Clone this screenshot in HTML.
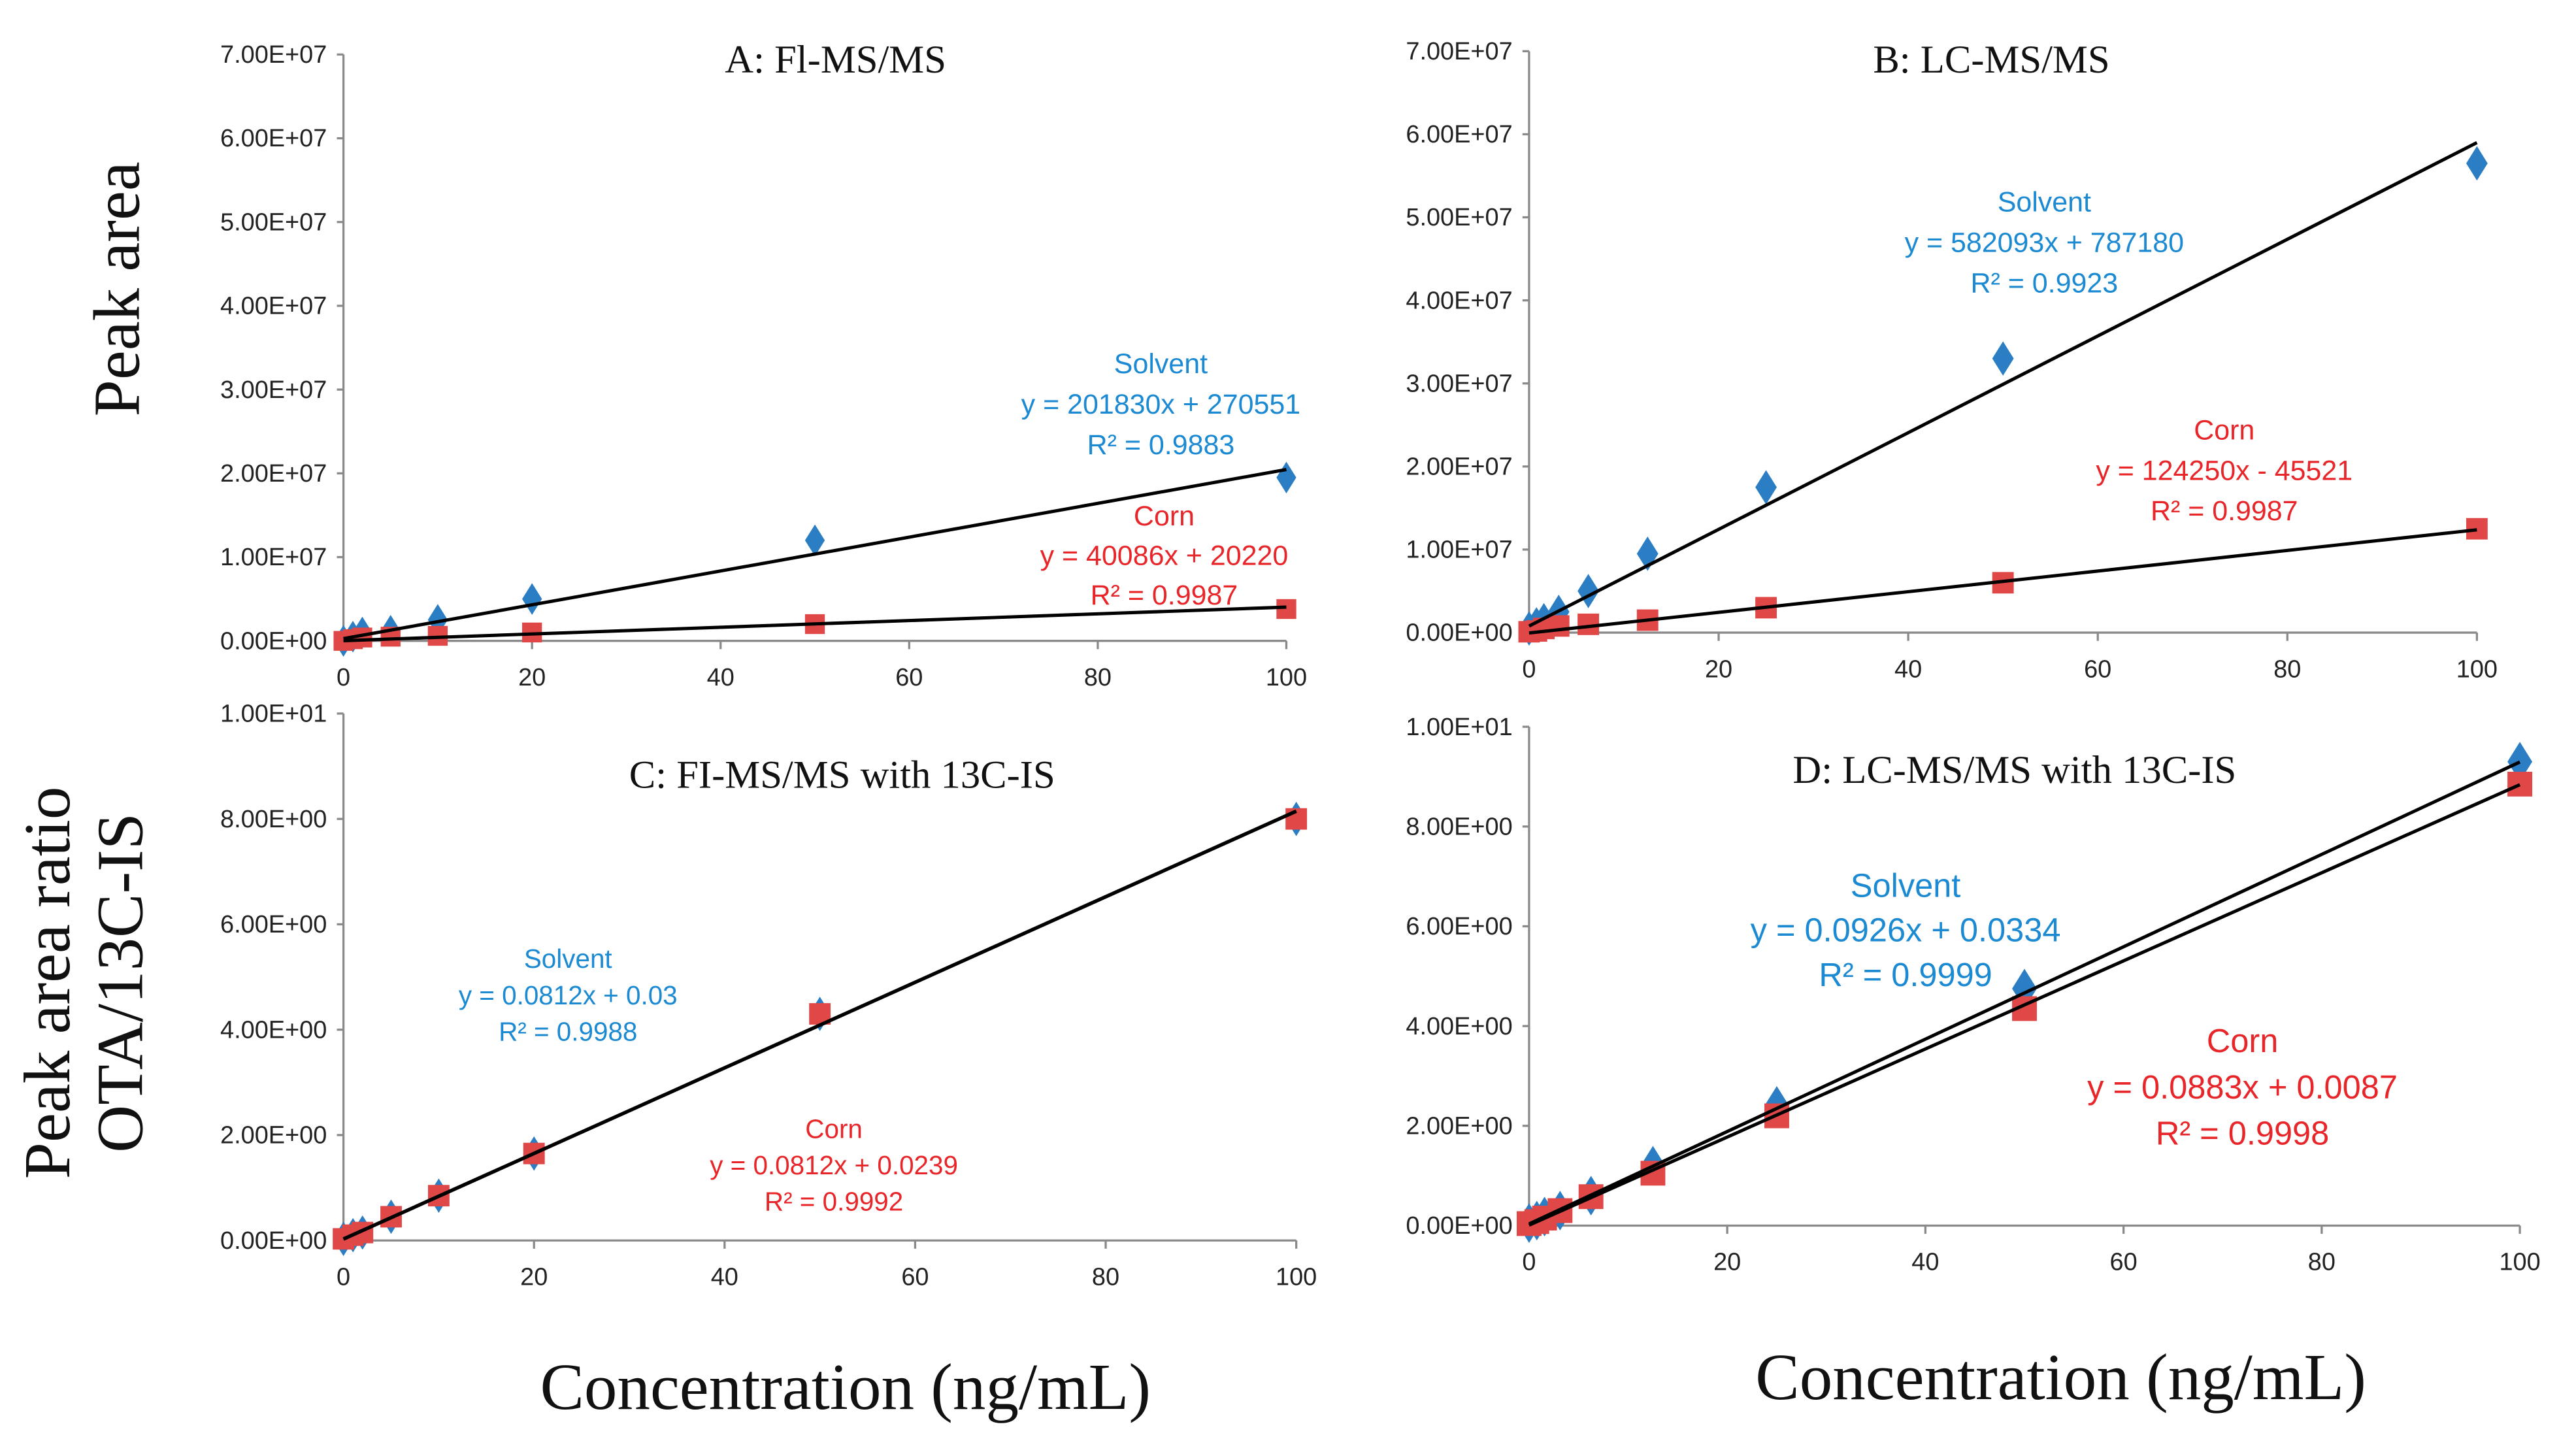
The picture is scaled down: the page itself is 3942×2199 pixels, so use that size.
<!DOCTYPE html>
<html><head><meta charset="utf-8"><style>
html,body{margin:0;padding:0;background:#fff;}
svg{display:block;}
.tk{font-family:"Liberation Sans Narrow","Liberation Sans",sans-serif;font-size:15px;fill:#222;}
.ttl{font-family:"Liberation Serif",serif;font-size:24px;fill:#111;}
.big{font-family:"Liberation Serif",serif;font-size:40px;fill:#111;}
.ann{font-family:"Liberation Sans Narrow","Liberation Sans",sans-serif;text-anchor:middle;}
</style></head><body>
<svg id="fig" width="3942" height="2199" viewBox="0 0 1560 870" preserveAspectRatio="none" xmlns="http://www.w3.org/2000/svg">
<text class="big" transform="translate(84,175) rotate(-90)" text-anchor="middle">Peak area</text>
<text class="big" transform="translate(42,595) rotate(-90)" text-anchor="middle">Peak area ratio</text>
<text class="big" transform="translate(86,595) rotate(-90)" text-anchor="middle">OTA/13C-IS</text>
<text class="big" x="512" y="853" text-anchor="middle">Concentration (ng/mL)</text>
<text class="big" x="1248" y="847" text-anchor="middle">Concentration (ng/mL)</text>
</svg>
<script>
// Panel A data
const xA = [0, 1, 2, 5, 10, 20, 50, 100];
const solventA = [0.0e7, 0.05e7, 0.1e7, 0.12e7, 0.25e7, 0.5e7, 1.2e7, 1.95e7];
const cornA = [0.0, 0.02e7, 0.04e7, 0.05e7, 0.06e7, 0.1e7, 0.2e7, 0.38e7];
const fitA = [[201830, 270551], [40086, 20220]];
const yTicksE7 = ["0.00E+00","1.00E+07","2.00E+07","3.00E+07","4.00E+07","5.00E+07","6.00E+07","7.00E+07"];
// Panel B data
const xB = [0, 0.78, 1.56, 3.125, 6.25, 12.5, 25, 50, 100];
const solventB = [0.05e7, 0.1e7, 0.15e7, 0.25e7, 0.5e7, 0.95e7, 1.75e7, 3.3e7, 5.65e7];
const cornB = [0.01e7, 0.02e7, 0.05e7, 0.08e7, 0.1e7, 0.15e7, 0.3e7, 0.6e7, 1.25e7];
const fitB = [[582093, 787180], [124250, -45521]];
// Panel C data
const xC = [0, 1, 2, 5, 10, 20, 50, 100];
const solventC = [0.03, 0.1, 0.15, 0.45, 0.85, 1.65, 4.3, 8.0];
const cornC = [0.03, 0.1, 0.15, 0.45, 0.85, 1.65, 4.3, 8.0];
const fitC = [[0.0812, 0.03], [0.0812, 0.0239]];
const yTicksC = ["0.00E+00","2.00E+00","4.00E+00","6.00E+00","8.00E+00","1.00E+01"];
// Panel D data
const xD = [0, 0.78, 1.56, 3.125, 6.25, 12.5, 25, 50, 100];
const solventD = [0.05, 0.1, 0.18, 0.3, 0.6, 1.2, 2.4, 4.75, 9.3];
const cornD = [0.04, 0.08, 0.15, 0.3, 0.58, 1.05, 2.2, 4.35, 8.85];
const fitD = [[0.0926, 0.0334], [0.0883, 0.0087]];
const xTicks = ["0","20","40","60","80","100"];

const NS = "http://www.w3.org/2000/svg";
const svg = document.getElementById("fig");
function mk(tag, attrs, parent) {
  const e = document.createElementNS(NS, tag);
  for (const k in attrs) e.setAttribute(k, attrs[k]);
  (parent || svg).appendChild(e);
  return e;
}

function panel(o) {
  const g = mk("g", {});
  
  
  const sx = v => o.x0 + (v / 100) * (o.x1 - o.x0);
  const sy = v => o.y0 - (v / o.ymax) * (o.y0 - o.y1);
  const ya = mk("line", {x1:o.x0, y1:o.y1, x2:o.x0, y2:o.y0, stroke:"#8a8a8a", "stroke-width":1.3}, g);
  
  
  const xa = mk("line", {x1:o.x0, y1:o.y0, x2:o.x1, y2:o.y0, stroke:"#8a8a8a", "stroke-width":1.3}, g);
  
  
  o.yt.forEach((lab, i) => {
    const v = i * o.ymax / (o.yt.length - 1);
    const y = sy(v);
    mk("line", {x1:o.x0-4, y1:y, x2:o.x0, y2:y, stroke:"#8a8a8a", "stroke-width":1.3}, g);
    const t = mk("text", {x:o.x0-10, y:y+5, "text-anchor":"end", class:"tk"}, g);
    t.textContent = lab;
    
    
  });
  xTicks.forEach(lab => {
    const x = sx(+lab);
    mk("line", {x1:x, y1:o.y0, x2:x, y2:o.y0+5, stroke:"#8a8a8a", "stroke-width":1.3}, g);
    const t = mk("text", {x:x, y:o.y0+27, "text-anchor":"middle", class:"tk"}, g);
    t.textContent = lab;
    
    
  });
  const ms = o.ms;
  o.sol.forEach((v, i) => {
    const x = sx(o.xs[i]), y = sy(v);
    const d = mk("polygon", {points:`${x},${y-ms*0.8} ${x+ms*0.5},${y} ${x},${y+ms*0.8} ${x-ms*0.5},${y}`, fill:"#2b7ec4"}, g);
    
    
  });
  o.corn.forEach((v, i) => {
    const x = sx(o.xs[i]), y = sy(v);
    const r = mk("rect", {x:x-ms/2, y:y-ms/2, width:ms, height:ms, fill:"#e04848"}, g);
    
    
  });
  o.fit.forEach((f, k) => {
    const l = mk("line", {x1:sx(0), y1:sy(f[1]), x2:sx(100), y2:sy(f[0]*100+f[1]), stroke:"#000", "stroke-width":2}, g);
    
    
  });
  const tt = mk("text", {x:o.tx, y:o.ty, "text-anchor":"middle", class:"ttl"}, g);
  tt.textContent = o.title;
  
  
  o.ann.forEach(a => {
    a.lines.forEach((s, i) => {
      const t = mk("text", {x:a.x, y:a.y + i*a.dy, class:"ann", fill:a.c, "font-size":a.fs}, g);
      t.textContent = s;
      
      
    });
  });
}

const BL = "#1b8ad2", RD = "#e8262a";
panel({name:"panel-a", x0:208, x1:779, y0:388, y1:33, ymax:7e7, yt:yTicksE7, xs:xA, sol:solventA, corn:cornA, fit:fitA, ms:12,
  title:"A: Fl-MS/MS", tx:506, ty:44,
  ann:[{nm:"solvent", x:703, y:226, dy:24.5, fs:17, c:BL, lines:["Solvent","y = 201830x + 270551","R² = 0.9883"]},
       {nm:"corn", x:705, y:318, dy:24, fs:17, c:RD, lines:["Corn","y = 40086x + 20220","R² = 0.9987"]}]});
panel({name:"panel-b", x0:926, x1:1500, y0:383, y1:31, ymax:7e7, yt:yTicksE7, xs:xB, sol:solventB, corn:cornB, fit:fitB, ms:13,
  title:"B: LC-MS/MS", tx:1206, ty:44,
  ann:[{nm:"solvent", x:1238, y:128, dy:24.5, fs:17, c:BL, lines:["Solvent","y = 582093x + 787180","R² = 0.9923"]},
       {nm:"corn", x:1347, y:266, dy:24.5, fs:17, c:RD, lines:["Corn","y = 124250x - 45521","R² = 0.9987"]}]});
panel({name:"panel-c", x0:208, x1:785, y0:751, y1:432, ymax:10, yt:yTicksC, xs:xC, sol:solventC, corn:cornC, fit:fitC, ms:13,
  title:"C: FI-MS/MS with 13C-IS", tx:510, ty:477,
  ann:[{nm:"solvent", x:344, y:586, dy:22, fs:16, c:BL, lines:["Solvent","y = 0.0812x + 0.03","R² = 0.9988"]},
       {nm:"corn", x:505, y:689, dy:22, fs:16, c:RD, lines:["Corn","y = 0.0812x + 0.0239","R² = 0.9992"]}]});
panel({name:"panel-d", x0:926, x1:1526, y0:742, y1:440, ymax:10, yt:yTicksC, xs:xD, sol:solventD, corn:cornD, fit:fitD, ms:15,
  title:"D: LC-MS/MS with 13C-IS", tx:1220, ty:474,
  ann:[{nm:"solvent", x:1154, y:543, dy:27, fs:20, c:BL, lines:["Solvent","y = 0.0926x + 0.0334","R² = 0.9999"]},
       {nm:"corn", x:1358, y:637, dy:28, fs:20, c:RD, lines:["Corn","y = 0.0883x + 0.0087","R² = 0.9998"]}]});
</script>
</body></html>
